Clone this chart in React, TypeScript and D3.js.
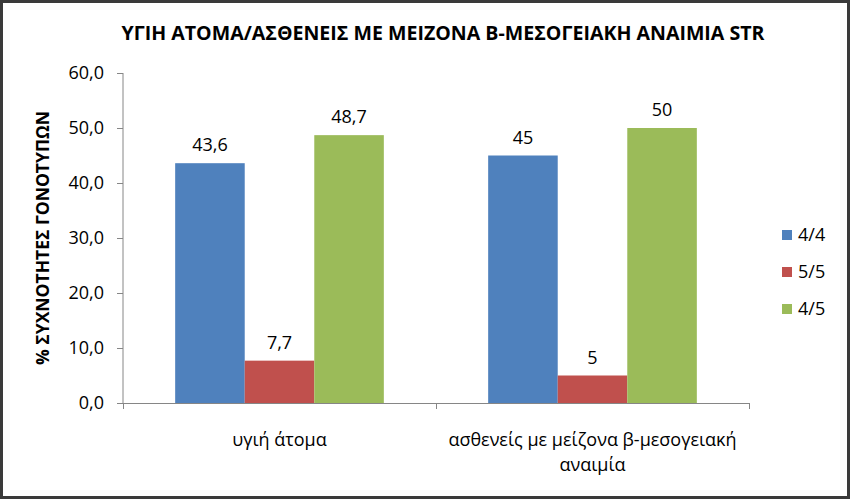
import React from "react";
import * as d3 from "d3";

const categories = ["υγιή άτομα", "ασθενείς με μείζονα β-μεσογειακή αναιμία"];
const categoryLines = [["υγιή άτομα"], ["ασθενείς με μείζονα β-μεσογειακή", "αναιμία"]];
const seriesNames = ["4/4", "5/5", "4/5"];
const values44 = [43.6, 45];
const values55 = [7.7, 5];
const values45 = [48.7, 50];
const labels44 = ["43,6", "45"];
const labels55 = ["7,7", "5"];
const labels45 = ["48,7", "50"];
const yTicks = [0, 10, 20, 30, 40, 50, 60];
const colors = ["#4F81BD", "#C0504D", "#9BBB59"];
const title = "ΥΓΙΗ ΑΤΟΜΑ/ΑΣΘΕΝΕΙΣ ΜΕ ΜΕΙΖΟΝΑ Β-ΜΕΣΟΓΕΙΑΚΗ ΑΝΑΙΜΙΑ STR";
const yTitle = "% ΣΥΧΝΟΤΗΤΕΣ ΓΟΝΟΤΥΠΩΝ";

const W = 850;
const H = 499;
const FONT = "'Open Sans', sans-serif";

export default function App() {
  const left = 123, right = 749, top = 73, bottom = 403;
  const x = d3.scaleBand<string>().domain(categories).range([left, right]).paddingInner(0).paddingOuter(0);
  const y = d3.scaleLinear().domain([0, 60]).range([bottom, top]);
  const series = [values44, values55, values45];
  const seriesLabels = [labels44, labels55, labels45];
  const inner = d3.scaleBand<number>().domain([0, 1, 2]).range([0, x.bandwidth()]).paddingOuter(0.75).paddingInner(0);
  const fmt = (v: number) => d3.format(".1f")(v).replace(".", ",");
  const axisColor = "#868686";

  return (
    <svg width={W} height={H} style={{ position: "absolute", left: 0, top: 0, background: "#fff" }} fontFamily={FONT}>
      <rect x={1.5} y={1.5} width={W - 3} height={H - 3} fill="#fff" stroke="#3a3a3a" strokeWidth={3} />
      <text x={443} y={40} textAnchor="middle" fontWeight="bold" fontSize={19} fill="#000" textLength={643} lengthAdjust="spacingAndGlyphs">{title}</text>
      <text transform={`translate(49,${238}) rotate(-90)`} textAnchor="middle" fontWeight="bold" fontSize={18} fill="#000" textLength={254} lengthAdjust="spacingAndGlyphs">{yTitle}</text>
      {/* y axis */}
      <line x1={left} x2={left} y1={top} y2={bottom} stroke={axisColor} />
      {yTicks.map((t) => (
        <g key={t}>
          <line x1={left - 6} x2={left} y1={Math.round(y(t)) + 0.5} y2={Math.round(y(t)) + 0.5} stroke={axisColor} />
          <text x={left - 19} y={y(t)} dy="0.36em" textAnchor="end" fontSize={18} fill="#000">{fmt(t)}</text>
        </g>
      ))}
      {/* bars */}
      {categories.map((c, ci) => (
        <g key={c}>
          {series.map((s, si) => {
            const bx = (x(c) as number) + (inner(si) as number);
            const bw = inner.bandwidth();
            return (
              <g key={si}>
                <rect x={bx} y={y(s[ci])} width={bw} height={bottom - y(s[ci])} fill={colors[si]} />
                <text x={bx + bw / 2} y={y(s[ci]) - 12} textAnchor="middle" fontSize={18} fill="#000">{seriesLabels[si][ci]}</text>
              </g>
            );
          })}
        </g>
      ))}
      {/* x axis */}
      <line x1={left - 6} x2={right} y1={bottom + 0.5} y2={bottom + 0.5} stroke={axisColor} />
      {[0, 1, 2].map((i) => {
        const px = left + i * x.bandwidth();
        return <line key={i} x1={Math.round(px) + 0.5} x2={Math.round(px) + 0.5} y1={bottom} y2={bottom + 6} stroke={axisColor} />;
      })}
      {categories.map((c, ci) => (
        <text key={c} x={(x(c) as number) + x.bandwidth() / 2} y={446} textAnchor="middle" fontSize={18} fill="#000">
          {categoryLines[ci].map((l, li) => (
            <tspan key={li} x={(x(c) as number) + x.bandwidth() / 2} dy={li === 0 ? 0 : 25}>{l}</tspan>
          ))}
        </text>
      ))}
      {/* legend */}
      {seriesNames.map((n, i) => (
        <g key={n} transform={`translate(782,${235 + i * 37})`}>
          <rect x={0} y={-5} width={10} height={10} fill={colors[i]} />
          <text x={16} y={0} dy="0.36em" fontSize={18} fill="#000">{n}</text>
        </g>
      ))}
    </svg>
  );
}
